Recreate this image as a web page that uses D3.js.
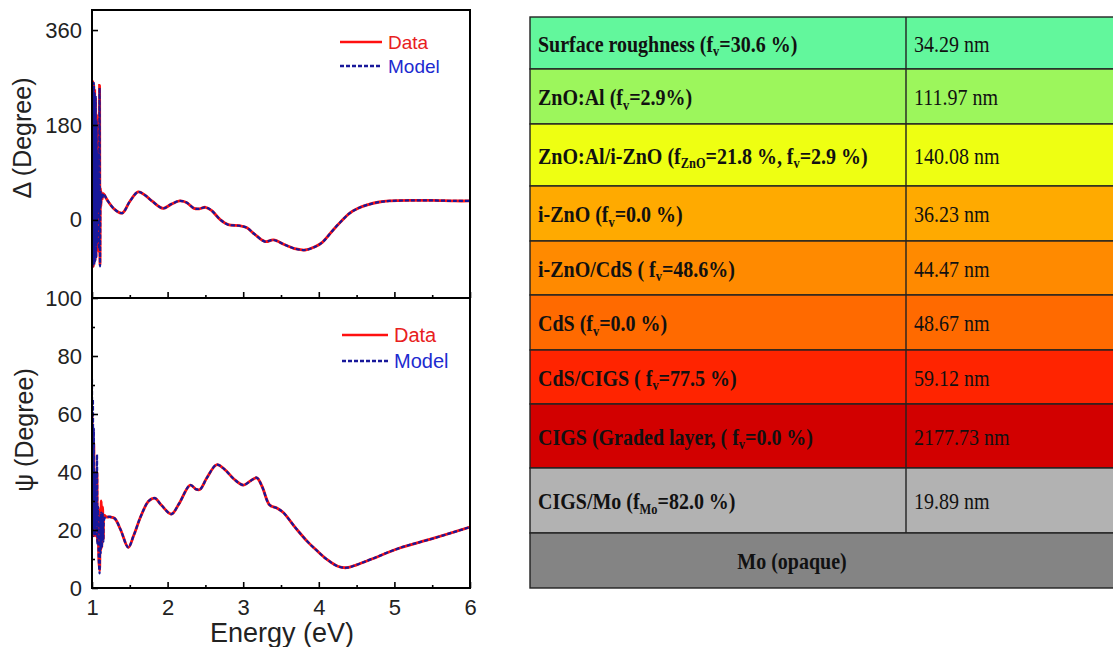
<!DOCTYPE html>
<html><head><meta charset="utf-8">
<script src="https://cdn.jsdelivr.net/npm/d3@7"></script>
<style>body{margin:0;background:#fff}svg{display:block}</style></head>
<body>
<svg id="c" width="1113" height="647"></svg>
<script>
// ---------- DATA ----------
const deltaEnergy = [1.000,1.006,1.012,1.018,1.024,1.030,1.036,1.042,1.048,1.054,1.060,1.066,1.072,1.078,1.085,1.092,1.100,1.106,1.112,1.118,1.125,1.135,1.15,1.20,1.30,1.40,1.50,1.61,1.70,1.80,1.94,2.05,2.16,2.25,2.35,2.42,2.50,2.58,2.70,2.80,2.95,3.05,3.15,3.29,3.40,3.55,3.70,3.82,3.95,4.05,4.19,4.30,4.41,4.52,4.63,4.80,4.94,5.20,5.50,5.80,6.00];
const deltaData   = [250,-85,262,-88,255,-80,245,-75,230,-70,200,-40,120,20,70,-60,255,-85,60,25,52,40,50,38,20,13,35,53,47,35,22,30,36,33,22,21,24,18,0,-9,-11,-15,-27,-41,-38,-47,-55,-57,-51,-42,-19,-2,13,22,28,34,36,37,37,36,36];
const deltaModel  = [262,-90,250,-84,260,-86,240,-78,235,-72,190,-45,130,15,75,-55,250,-88,55,30,50,40,50,38,20,13,35,53,47,35,22,30,36,33,22,21,24,18,0,-9,-11,-15,-27,-41,-38,-47,-55,-57,-51,-42,-19,-2,13,22,28,34,36,37,37,36,36];

const psiEnergy = [1.000,1.006,1.012,1.018,1.024,1.030,1.036,1.042,1.050,1.058,1.066,1.072,1.080,1.090,1.100,1.108,1.115,1.122,1.130,1.140,1.150,1.165,1.19,1.24,1.30,1.38,1.48,1.55,1.65,1.75,1.83,1.92,2.05,2.15,2.30,2.38,2.43,2.52,2.65,2.75,2.88,3.00,3.10,3.18,3.25,3.35,3.45,3.53,3.70,3.85,3.97,4.10,4.25,4.37,4.50,4.70,5.07,5.50,6.00];
const psiData  = [60,22,55,18,50,24,38,18,30,20,40,16,28,10,6,27,13,30,14,28,17,25,24.5,24.5,24,20,14,18,25,30,31,28.5,25.5,29,35.5,34,34,38,42.5,41,37.5,35.5,37,38,35,28.6,27.5,26,20.5,16,13,10,7.5,7,8,10,13.8,17,21];
const psiModel = [72,20,65,18,55,22,40,18,30,20,46,15,28,10,5,25,12,26,14,26,16,24,24.5,24.5,24,20,14,18,25,30,31,28.5,25.5,29,35.5,34,34,38,42.5,41,37.5,35.5,37,38,35,28.6,27.5,26,20.5,16,13,10,7.5,7,8,10,13.8,17,21];

const energyTicks = [1,2,3,4,5,6];
const energyMinorTicks = [1.5,2.5,3.5,4.5,5.5];
const deltaTicks = [0,180,360];
const psiTicks = [0,20,40,60,80,100];
const psiMinorTicks = [10,30,50,70,90];
const legendLabels = ["Data","Model"];

const layerLabels = [
  "Surface roughness (f_{v}=30.6 %)",
  "ZnO:Al (f_{v}=2.9%)",
  "ZnO:Al/i-ZnO (f_{ZnO}=21.8 %, f_{v}=2.9 %)",
  "i-ZnO (f_{v}=0.0 %)",
  "i-ZnO/CdS ( f_{v}=48.6%)",
  "CdS (f_{v}=0.0 %)",
  "CdS/CIGS ( f_{v}=77.5 %)",
  "CIGS (Graded layer, ( f_{v}=0.0 %)",
  "CIGS/Mo (f_{Mo}=82.0 %)",
  "Mo (opaque)"
];
const layerThickness = ["34.29 nm","111.97 nm","140.08 nm","36.23 nm","44.47 nm","48.67 nm","59.12 nm","2177.73 nm","19.89 nm",""];
const layerColors = ["#62f79c","#9cf65c","#eeff12","#ffaa00","#ff8a00","#ff6a00","#ff2400","#d20000","#b2b2b2","#848484"];

// ---------- LAYOUT ----------
const svg = d3.select("#c");
const L = 92, R = 470;
const T1 = 10, B1 = 298, T2 = 298, B2 = 588;
const FONT = "'Liberation Sans', Arial, sans-serif";
const SERIF = "'Liberation Serif', 'Times New Roman', serif";

const x = d3.scaleLinear().domain([1,6]).range([L,R]);
const yD = d3.scaleLinear().domain([-148,398]).range([B1,T1]);
const yP = d3.scaleLinear().domain([0,100]).range([B2,T2]);

const defs = svg.append("defs");
defs.append("clipPath").attr("id","clip1").append("rect").attr("x",L).attr("y",T1).attr("width",R-L).attr("height",B1-T1);
defs.append("clipPath").attr("id","clip2").append("rect").attr("x",L).attr("y",T2).attr("width",R-L).attr("height",B2-T2);

function drawLines(energy, dat, mod, yScale, clip){
  const g = svg.append("g").attr("clip-path",`url(#${clip})`);
  const line = (vals) => d3.line().x((d,i)=>x(energy[i])).y(d=>yScale(d)).curve(d3.curveCatmullRom.alpha(0.5))(vals);
  g.append("path").attr("d",line(dat)).attr("fill","none").attr("stroke","#ff1010").attr("stroke-width",2.8);
  g.append("path").attr("d",line(mod)).attr("fill","none").attr("stroke","#18189a").attr("stroke-width",2.2).attr("stroke-dasharray","4,2");
}
drawLines(deltaEnergy, deltaData, deltaModel, yD, "clip1");
drawLines(psiEnergy, psiData, psiModel, yP, "clip2");

function styleAxis(g, size){
  g.select(".domain").remove();
  g.selectAll("text").attr("font-family",FONT).attr("font-size",size).attr("fill","#222");
  g.selectAll("line").attr("stroke","#000").attr("stroke-width",1.6);
}
// x axes (ticks inward, pointing up)
[B1,B2].forEach((yy,i)=>{
  const gMin = svg.append("g").attr("transform",`translate(0,${yy})`)
    .call(d3.axisBottom(x).tickValues(energyMinorTicks).tickSizeInner(-3).tickSizeOuter(0).tickFormat(""));
  styleAxis(gMin,22);
  const gMaj = svg.append("g").attr("transform",`translate(0,${yy})`)
    .call(d3.axisBottom(x).tickValues(energyTicks).tickSizeInner(-6).tickSizeOuter(0).tickPadding(11)
      .tickFormat(i===1? d3.format("d") : ""));
  styleAxis(gMaj,22);
});
// y axes
const gyD = svg.append("g").attr("transform",`translate(${L},0)`)
  .call(d3.axisLeft(yD).tickValues(deltaTicks).tickSizeInner(-6).tickSizeOuter(0).tickPadding(10));
styleAxis(gyD,22);
const gyPm = svg.append("g").attr("transform",`translate(${L},0)`)
  .call(d3.axisLeft(yP).tickValues(psiMinorTicks).tickSizeInner(-3).tickSizeOuter(0).tickFormat(""));
styleAxis(gyPm,22);
const gyP = svg.append("g").attr("transform",`translate(${L},0)`)
  .call(d3.axisLeft(yP).tickValues(psiTicks).tickSizeInner(-6).tickSizeOuter(0).tickPadding(10));
styleAxis(gyP,22);

// frames
[[T1,B1],[T2,B2]].forEach(([t,b])=>{
  svg.append("rect").attr("x",L).attr("y",t).attr("width",R-L).attr("height",b-t)
    .attr("fill","none").attr("stroke","#000").attr("stroke-width",2);
});

// axis titles
svg.append("text").attr("transform","translate(31,138) rotate(-90)").attr("text-anchor","middle")
  .attr("font-family",FONT).attr("font-size",25).attr("fill","#222").text("Δ (Degree)");
svg.append("text").attr("transform","translate(33,430) rotate(-90)").attr("text-anchor","middle")
  .attr("font-family",FONT).attr("font-size",25).attr("fill","#222").text("ψ (Degree)");
svg.append("text").attr("x",282).attr("y",642).attr("text-anchor","middle")
  .attr("font-family",FONT).attr("font-size",27).attr("fill","#222").text("Energy (eV)");

// legends
function legend(x0,x1,y0,dy,fs){
  const cols = ["#ff1010","#18189a"], txtCols = ["#e82020","#1c2ad0"];
  legendLabels.forEach((lab,i)=>{
    const yy = y0 + i*dy;
    svg.append("line").attr("x1",x0).attr("x2",x1).attr("y1",yy).attr("y2",yy)
      .attr("stroke",cols[i]).attr("stroke-width",2.4).attr("stroke-dasharray", i? "4,2" : null);
    svg.append("text").attr("x",x1+6).attr("y",yy+7).attr("font-family",FONT).attr("font-size",fs)
      .attr("fill",txtCols[i]).text(lab);
  });
}
legend(340,382,42,24,19);
legend(342,388,335,26,20);

// ---------- TABLE ----------
const rowEdges = [17,69,124,186,241,295,350,404,468,533,588];
const TL = 530, TD = 906, TR = 1116;
const tg = svg.append("g");
function addRich(sel, str){
  const parts = str.split(/(_\{[^}]*\})/).filter(s=>s.length);
  let sub=false;
  parts.forEach(p=>{
    if(p.startsWith("_{")){
      sel.append("tspan").attr("font-size","62%").attr("dy",4).text(p.slice(2,-1));
      sub=true;
    } else {
      sel.append("tspan").attr("dy", sub? -4 : 0).text(p);
      sub=false;
    }
  });
}
layerLabels.forEach((lab,i)=>{
  const y0 = rowEdges[i], y1 = rowEdges[i+1], cy=(y0+y1)/2;
  const last = i===layerLabels.length-1;
  tg.append("rect").attr("x",TL).attr("y",y0).attr("width",TR-TL).attr("height",y1-y0)
    .attr("fill",layerColors[i]).attr("stroke","#222").attr("stroke-width",1.4);
  if(!last){
    tg.append("line").attr("x1",TD).attr("x2",TD).attr("y1",y0).attr("y2",y1).attr("stroke","#222").attr("stroke-width",1.4);
    const t = tg.append("text").attr("transform",`translate(538,${cy+8.5}) scale(1,1.2)`)
      .attr("font-family",SERIF).attr("font-weight","bold").attr("font-size",20).attr("fill","#111");
    addRich(t, lab);
    tg.append("text").attr("transform",`translate(914,${cy+8.5}) scale(1,1.2)`)
      .attr("font-family",SERIF).attr("font-size",20).attr("fill","#111").text(layerThickness[i]);
  } else {
    tg.append("text").attr("transform",`translate(792,${cy+8.5}) scale(1,1.2)`).attr("text-anchor","middle")
      .attr("font-family",SERIF).attr("font-weight","bold").attr("font-size",20).attr("fill","#111").text(lab);
  }
});
</script>
</body></html>
